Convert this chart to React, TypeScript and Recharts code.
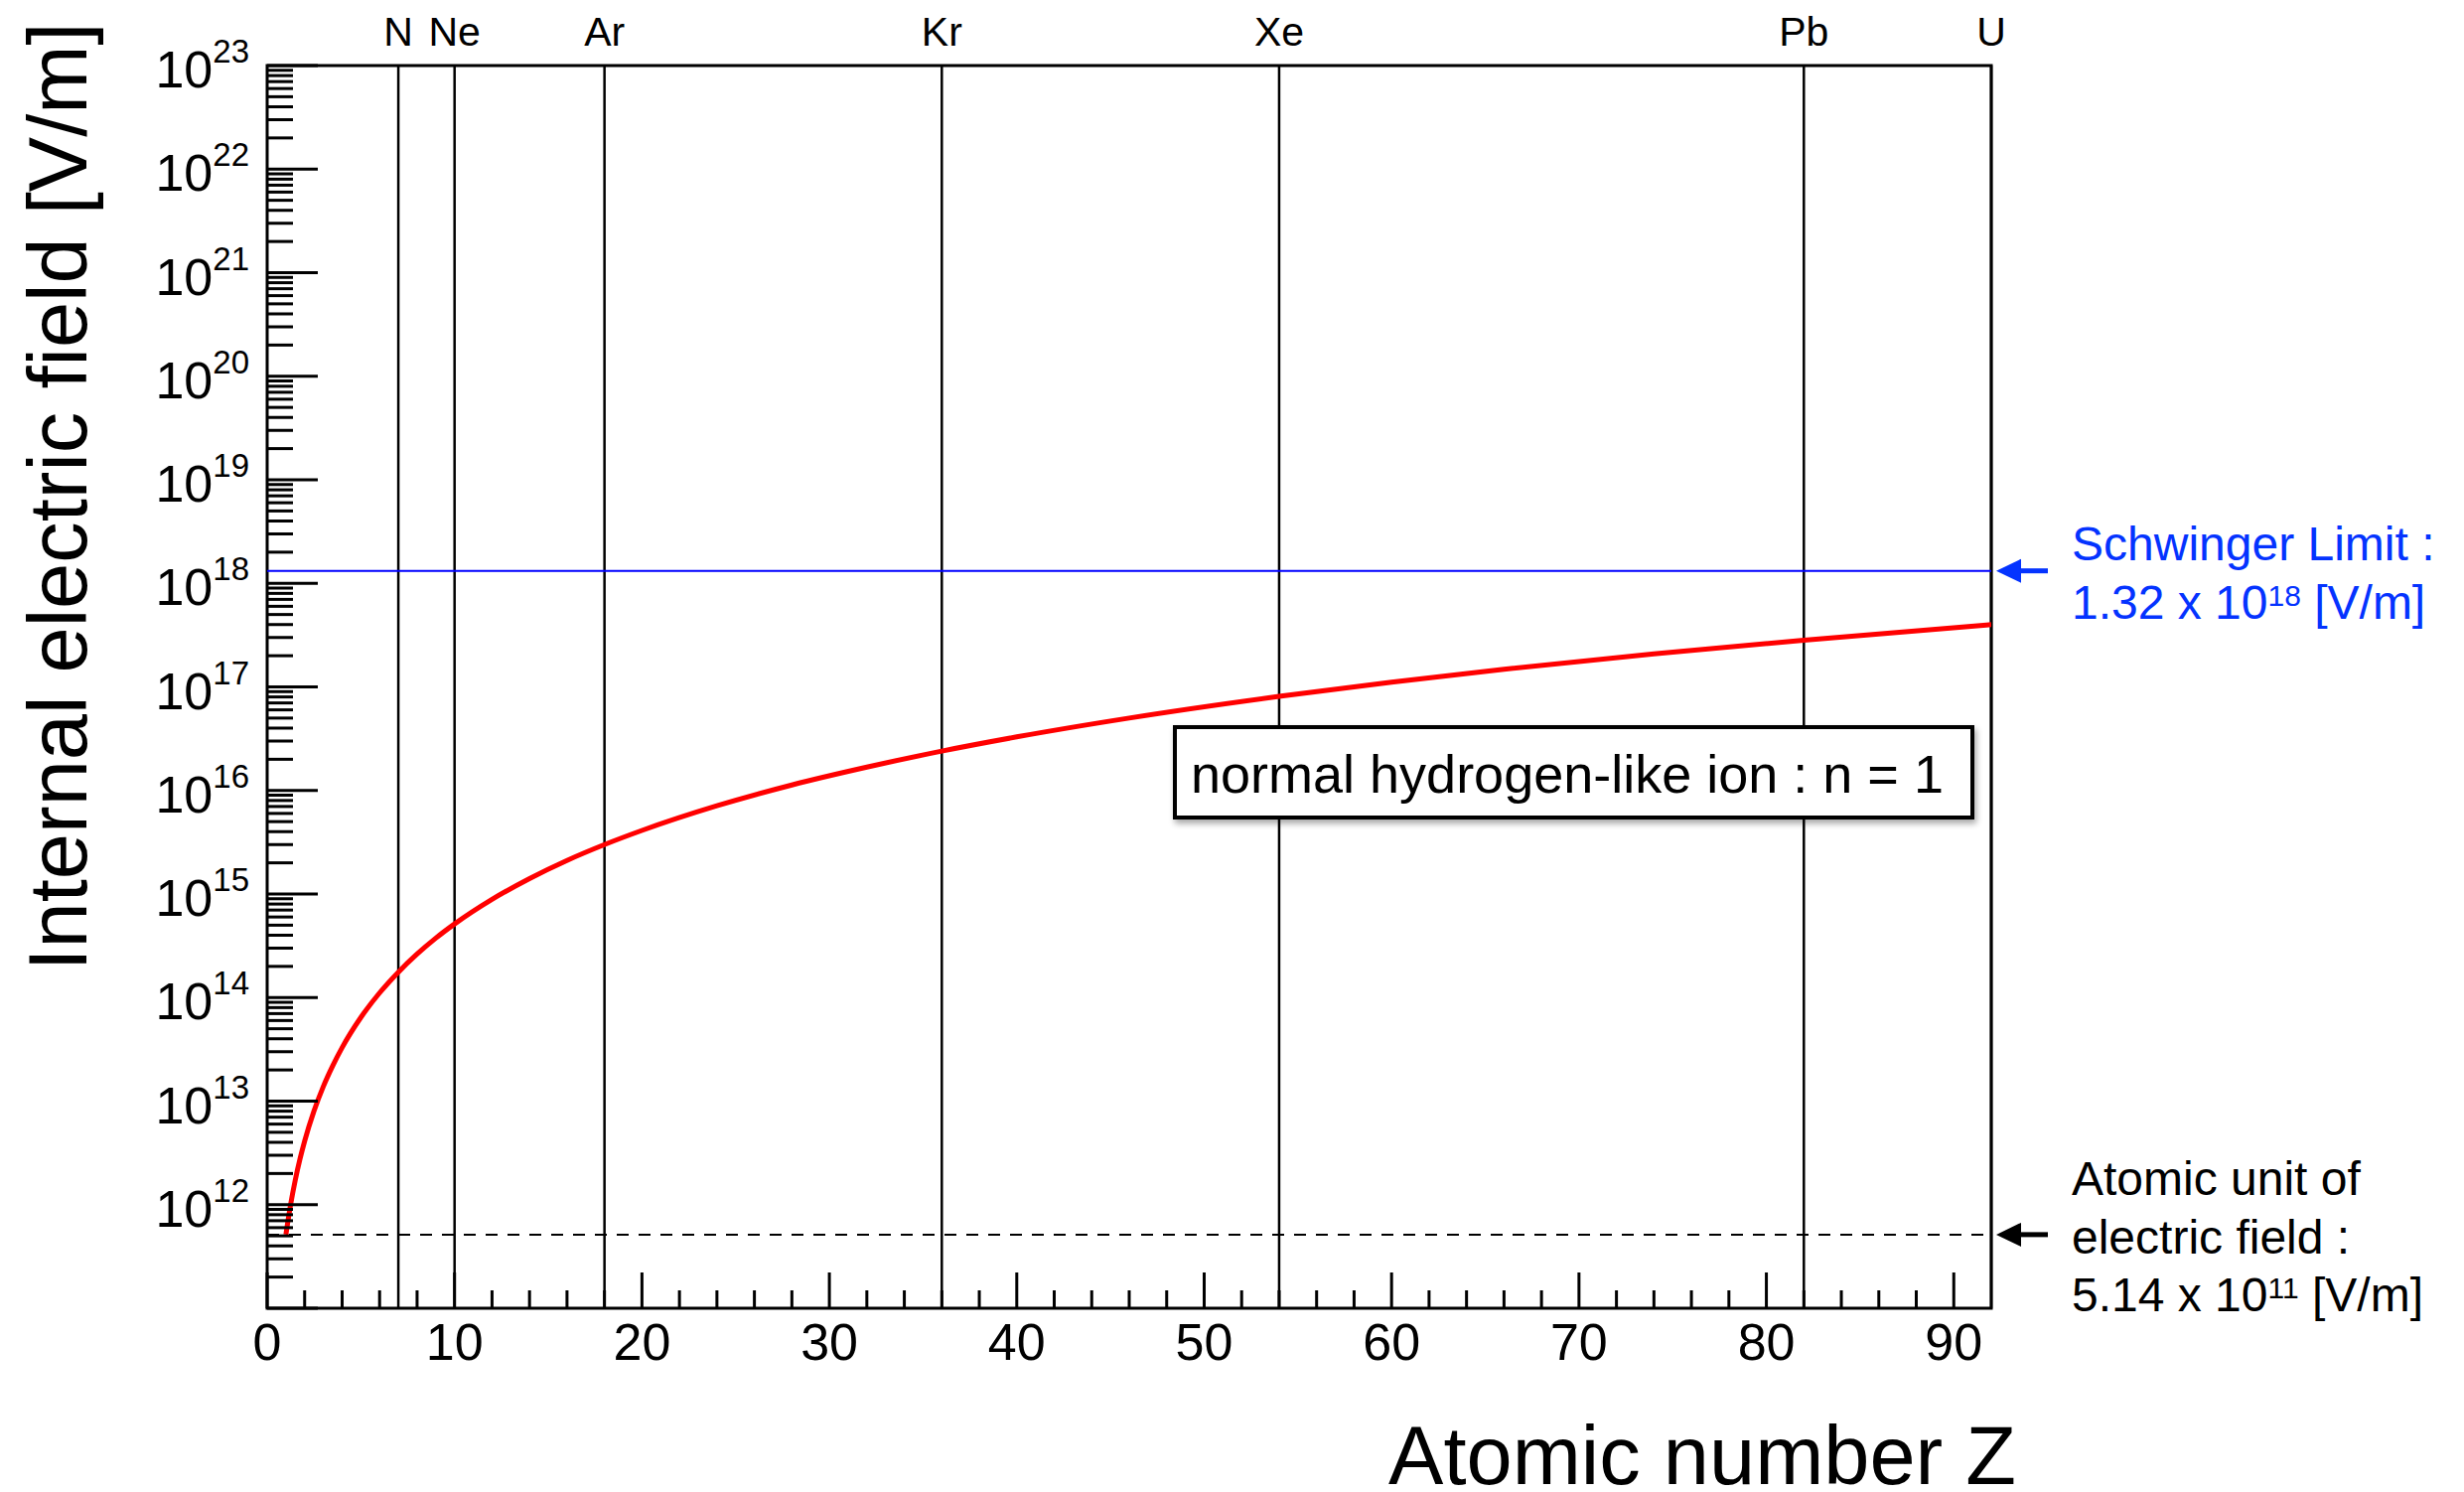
import React from 'react';
import { LineChart, Line, XAxis, YAxis, ReferenceLine, ReferenceArea } from 'recharts';

const FONT = '"Liberation Sans", Arial, Helvetica, sans-serif';
const RED = '#ff0000';
const BLUE_LINE = '#0000ff';
const BLUE_TEXT = '#0433ff';

// Red curve: internal electric field (V/m) vs atomic number Z
const atomicNumbers = [1, 1.25, 1.5, 1.75, 2, 2.5, 3, 3.5, 4, 5, 6, 7, 8, 9, 10, 12, 14, 16, 18, 20, 24, 28, 32, 36, 40, 46, 54, 60, 66, 74, 82, 92];
const fieldStrength = [
  5.14e11, 1.0e12, 1.73e12, 2.75e12, 4.11e12, 8.03e12, 1.39e13, 2.2e13, 3.29e13, 6.43e13,
  1.11e14, 1.76e14, 2.63e14, 3.75e14, 5.14e14, 8.88e14, 1.41e15, 2.11e15, 3.0e15, 4.11e15,
  7.11e15, 1.13e16, 1.68e16, 2.4e16, 3.29e16, 5.0e16, 8.09e16, 1.11e17, 1.48e17, 2.08e17,
  2.83e17, 4.0e17,
];

// Vertical element markers
const elementNames = ['N', 'Ne', 'Ar', 'Kr', 'Xe', 'Pb', 'U'];
const elementZ = [7, 10, 18, 36, 54, 82, 92];

// Reference levels
const schwingerLimit = 1.32e18;
const atomicUnitField = 5.14e11;

// Axis ticks
const xMajorTicks = [0, 10, 20, 30, 40, 50, 60, 70, 80, 90];
const xMinorTicks = [2, 4, 6, 8, 12, 14, 16, 18, 22, 24, 26, 28, 32, 34, 36, 38, 42, 44, 46, 48, 52, 54, 56, 58, 62, 64, 66, 68, 72, 74, 76, 78, 82, 84, 86, 88];
const yMajorExponents = [11, 12, 13, 14, 15, 16, 17, 18, 19, 20, 21, 22, 23];
const yMinorMultipliers = [2, 3, 4, 5, 6, 7, 8, 9];

const xTicks = [...xMajorTicks, ...xMinorTicks].sort((a, b) => a - b);
const yTicks: number[] = [];
yMajorExponents.forEach((e) => {
  yTicks.push(Math.pow(10, e));
  if (e < 23) yMinorMultipliers.forEach((m) => yTicks.push(m * Math.pow(10, e)));
});

const chartData = atomicNumbers.map((z, i) => ({ z, field: fieldStrength[i] }));

function YTick(props: any) {
  const { x, y, payload } = props;
  const v = payload.value;
  const exp = Math.round(Math.log10(v));
  const major = Math.abs(v / Math.pow(10, exp) - 1) < 1e-9;
  return (
    <g>
      <line x1={x} x2={x + (major ? 51 : 26)} y1={y} y2={y} stroke="#000" strokeWidth={3} />
      {major && exp >= 12 ? (
        <text x={x - 18} y={y + 22} textAnchor="end" fontFamily={FONT} fontSize={52} fill="#000">
          10
          <tspan dy={-25} fontSize={33}>{exp}</tspan>
        </text>
      ) : null}
    </g>
  );
}

function XTick(props: any) {
  const { x, y, payload } = props;
  const v = payload.value;
  const major = v % 10 === 0;
  return (
    <g>
      <line x1={x} x2={x} y1={y} y2={y - (major ? 36 : 18)} stroke="#000" strokeWidth={3} />
      {major ? (
        <text x={x} y={y + 52} textAnchor="middle" fontFamily={FONT} fontSize={52} fill="#000">
          {v}
        </text>
      ) : null}
    </g>
  );
}

const elementLabel = (name: string) => (p: any) => {
  const vb = p && p.viewBox;
  if (!vb) return null;
  return (
    <text x={vb.x} y={vb.y - 20} textAnchor="middle" fontFamily={FONT} fontSize={41} fill="#000">
      {name}
    </text>
  );
};

const arrow = (xr: number, yy: number, color: string) => (
  <g>
    <polygon points={`${xr + 5},${yy} ${xr + 30},${yy - 12} ${xr + 30},${yy + 12}`} fill={color} />
    <line x1={xr + 28} x2={xr + 57} y1={yy} y2={yy} stroke={color} strokeWidth={5} />
  </g>
);

const schwingerLabel = (p: any) => {
  const vb = p && p.viewBox;
  if (!vb) return null;
  const xr = vb.x + vb.width;
  const yy = vb.y;
  return (
    <g>
      {arrow(xr, yy, BLUE_TEXT)}
      <text x={xr + 81} y={yy - 11} fill={BLUE_TEXT} fontFamily={FONT} fontSize={48}>Schwinger Limit :</text>
      <text x={xr + 81} y={yy + 48} fill={BLUE_TEXT} fontFamily={FONT} fontSize={48}>
        1.32 x 10
        <tspan dy={-13} fontSize={30}>18</tspan>
        <tspan dy={13}> [V/m]</tspan>
      </text>
    </g>
  );
};

const atomicUnitLabel = (p: any) => {
  const vb = p && p.viewBox;
  if (!vb) return null;
  const xr = vb.x + vb.width;
  const yy = vb.y;
  return (
    <g>
      {arrow(xr, yy, '#000')}
      <text x={xr + 81} y={yy - 40} fill="#000" fontFamily={FONT} fontSize={48}>Atomic unit of</text>
      <text x={xr + 81} y={yy + 19} fill="#000" fontFamily={FONT} fontSize={48}>electric field :</text>
      <text x={xr + 81} y={yy + 77} fill="#000" fontFamily={FONT} fontSize={48}>
        5.14 x 10
        <tspan dy={-13} fontSize={30}>11</tspan>
        <tspan dy={13}> [V/m]</tspan>
      </text>
    </g>
  );
};

export default function App() {
  return (
    <div style={{ position: 'absolute', left: 0, top: 0, width: 2481, height: 1502, background: '#fff' }}>
      <LineChart
        width={2481}
        height={1502}
        data={chartData}
        margin={{ top: 66, right: 476, left: 69, bottom: 85 }}
      >
        <XAxis
          dataKey="z"
          type="number"
          domain={[0, 92]}
          ticks={xTicks}
          interval={0}
          tickSize={0}
          tickMargin={0}
          axisLine={false}
          tickLine={false}
          tick={(p: any) => <XTick {...p} />}
          height={100}
          allowDataOverflow
        />
        <YAxis
          type="number"
          scale="log"
          domain={[1e11, 1e23]}
          ticks={yTicks}
          interval={0}
          tickSize={0}
          tickMargin={0}
          axisLine={false}
          tickLine={false}
          tick={(p: any) => <YTick {...p} />}
          width={200}
          allowDataOverflow
        />
        {elementZ.map((z, i) => (
          <ReferenceLine
            key={elementNames[i]}
            x={z}
            stroke="#000"
            strokeWidth={2.5}
            label={elementLabel(elementNames[i])}
          />
        ))}
        <ReferenceLine y={schwingerLimit} stroke={BLUE_LINE} strokeWidth={2} label={schwingerLabel} />
        <ReferenceLine
          y={atomicUnitField}
          stroke="#000"
          strokeWidth={2}
          strokeDasharray="12 10"
          label={atomicUnitLabel}
        />
        <Line
          type="monotone"
          dataKey="field"
          stroke={RED}
          strokeWidth={5}
          dot={false}
          activeDot={false}
          isAnimationActive={false}
        />
        <ReferenceArea x1={0} x2={92} y1={1e11} y2={1e23} fill="none" fillOpacity={0} stroke="#000" strokeWidth={3} />
      </LineChart>
      <svg
        width={2481}
        height={1502}
        style={{ position: 'absolute', left: 0, top: 0, pointerEvents: 'none' }}
      >
        <defs>
          <filter id="shadow" x="-5%" y="-20%" width="110%" height="150%">
            <feDropShadow dx="2" dy="4" stdDeviation="3" floodColor="#000" floodOpacity="0.35" />
          </filter>
        </defs>
        <text
          transform="translate(87,500) rotate(-90)"
          textAnchor="middle"
          fontFamily={FONT}
          fontSize={83}
          fill="#000"
        >
          Internal electric field [V/m]
        </text>
        <text x={2030} y={1494} textAnchor="end" fontFamily={FONT} fontSize={83} fill="#000">
          Atomic number Z
        </text>
        <rect x={1183} y={732} width={803} height={91} fill="#fff" stroke="#000" strokeWidth={4} filter="url(#shadow)" />
        <text x={1199} y={798} fontFamily={FONT} fontSize={54} fill="#000">
          normal hydrogen-like ion : n = 1
        </text>
      </svg>
    </div>
  );
}
